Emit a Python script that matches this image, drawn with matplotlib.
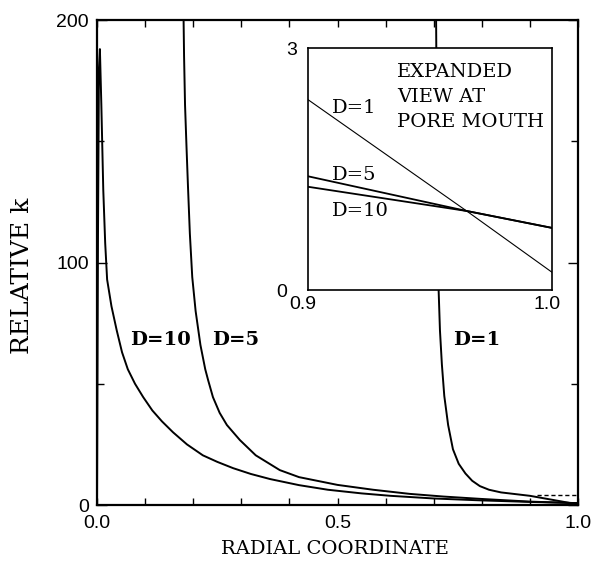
import matplotlib
matplotlib.use("Agg")
import matplotlib.pyplot as plt
import matplotlib.ticker as ticker
from matplotlib.transforms import ScaledTranslation

# main curves
xD10=[0.0,0.002,0.004,0.006,0.009,0.013,0.017,0.021,0.03,0.041,0.052,0.064,0.079,0.096,0.115,0.135,0.158,0.187,0.22,0.25,0.283,0.32,0.36,0.42,0.48,0.55,0.61,0.7,0.8,0.9,0.965,1.0]
yD10=[0,110,180,188,165,130,108,93,82,72,63,56,50,44.5,39,34.5,30,25,20.5,17.8,15.2,12.8,10.7,8.2,6.3,4.8,3.8,2.7,1.9,1.28,0.98,0.77]
xD5=[0.18,0.181,0.183,0.186,0.189,0.193,0.198,0.205,0.215,0.225,0.231,0.241,0.255,0.27,0.297,0.33,0.38,0.42,0.5,0.574,0.65,0.72,0.8,0.9,0.965,1.0]
yD5=[200,185,165,148,132,112,94,80,66,56,51.5,44.5,38,33,26.8,20.5,14.4,11.5,8.3,6.3,4.6,3.5,2.5,1.41,0.98,0.77]
xD1=[0.705,0.706,0.707,0.708,0.71,0.713,0.717,0.722,0.73,0.74,0.752,0.766,0.78,0.796,0.815,0.84,0.87,0.9,0.965,1.0]
yD1=[200,170,140,115,90,72,58,45,33,23,17,13,10,7.8,6.3,5.2,4.5,3.8,1.5,0.22]
xDash=[0.915,1.0]
yDash=[4,4]

# inset (pore mouth)
xIn=[0.9,0.965,1.0]
yInD1=[2.36,0.98,0.22]
yInD5=[1.41,0.98,0.77]
yInD10=[1.28,0.98,0.77]

serif="DejaVu Serif"
sans="Liberation Sans"

fig=plt.figure(figsize=(5.93,5.67),dpi=100)
ax=fig.add_axes([0.1636,0.1093,0.8111,0.8554])

ax.plot(xD10,yD10,color="black",lw=1.4)
ax.plot(xD5,yD5,color="black",lw=1.4)
ax.plot(xD1,yD1,color="black",lw=1.4)
ax.plot(xDash,yDash,color="black",lw=1.0,ls=(0,(3,2)))

ax.set_xlim(0,1)
ax.set_ylim(0,200)
for s in ax.spines.values():
    s.set_linewidth(1.6)
ax.xaxis.set_major_locator(ticker.FixedLocator([0,0.5,1.0]))
ax.xaxis.set_minor_locator(ticker.MultipleLocator(0.1))
ax.yaxis.set_major_locator(ticker.FixedLocator([0,100,200]))
ax.yaxis.set_minor_locator(ticker.MultipleLocator(50))
ax.xaxis.set_major_formatter(ticker.FormatStrFormatter("%.1f"))
ax.tick_params(which="both",direction="in",top=True,right=True,width=1.0)
ax.tick_params(which="major",length=7)
ax.tick_params(which="minor",length=5)
ax.tick_params(axis="x",which="major",length=5,pad=7)
ax.tick_params(axis="y",pad=6)
for t in ax.get_xticklabels()+ax.get_yticklabels():
    t.set_fontfamily(sans)
    t.set_fontsize(14)

fig.text(335/593,1-549/567,"RADIAL COORDINATE",fontfamily=serif,fontsize=14,ha="center",va="center")
fig.text(23/593,1-276/567,"RELATIVE k",fontfamily=serif,fontsize=18,rotation=90,ha="center",va="center")

ax.text(0.069,68,"D=10",fontfamily=serif,fontsize=14,fontweight="bold",va="center")
ax.text(0.239,68,"D=5",fontfamily=serif,fontsize=14,fontweight="bold",va="center")
ax.text(0.740,68,"D=1",fontfamily=serif,fontsize=14,fontweight="bold",va="center")

# inset
ins=fig.add_axes([0.5194,0.4885,0.4115,0.4268])
ins.set_zorder(3)
ins.set_facecolor("white")
ins.plot(xIn,yInD1,color="black",lw=0.8)
ins.plot(xIn,yInD5,color="black",lw=1.3)
ins.plot(xIn,yInD10,color="black",lw=1.3)
ins.set_xlim(0.9,1.0)
ins.set_ylim(0,3)
for s in ins.spines.values():
    s.set_linewidth(1.2)
ins.xaxis.set_major_locator(ticker.FixedLocator([0.9,1.0]))
ins.yaxis.set_major_locator(ticker.FixedLocator([0,3]))
ins.xaxis.set_major_formatter(ticker.FormatStrFormatter("%.1f"))
ins.yaxis.set_major_formatter(ticker.FormatStrFormatter("%d"))
ins.tick_params(axis="x",length=0,pad=4)
ins.tick_params(axis="y",length=0,pad=8)
for t in ins.get_xticklabels()+ins.get_yticklabels():
    t.set_fontfamily(sans)
    t.set_fontsize(14)
for t in ins.get_xticklabels():
    t.set_transform(t.get_transform()+ScaledTranslation(-0.05,0,fig.dpi_scale_trans))
# "0" sits further left than "3" in the reference
zero=ins.get_yticklabels()[0]
zero.set_transform(zero.get_transform()+ScaledTranslation(-0.1,0,fig.dpi_scale_trans))

ins.text(0.9365,2.82,"EXPANDED\nVIEW AT\nPORE MOUTH",fontfamily=serif,fontsize=14,va="top",linespacing=1.5)
ins.text(0.910,2.26,"D=1",fontfamily=serif,fontsize=14,va="center")
ins.text(0.910,1.43,"D=5",fontfamily=serif,fontsize=14,va="center")
ins.text(0.910,0.98,"D=10",fontfamily=serif,fontsize=14,va="center")

plt.savefig("out.png",dpi=100)
